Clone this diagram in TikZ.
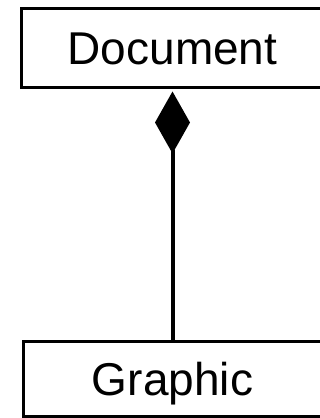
\documentclass[tikz,border=0pt]{standalone}
\usepackage{fontspec}
\setmainfont{Liberation Sans}
\usetikzlibrary{arrows.meta}
\begin{document}
\begin{tikzpicture}[x=1pt,y=-1pt,
  classbox/.style={draw=black, line width=3pt, fill=white, inner sep=0pt,
    font=\fontsize{46}{46}\selectfont, text height=33pt, text depth=0pt},
  composition/.style={line width=4pt, shorten <=3pt,
    {Diamond[length=62pt 0 0, width=35pt 0 0, line width=0pt]}-}]
\useasboundingbox (0,0) rectangle (320,418);
\node[classbox, minimum width=302pt, minimum height=79pt] (doc) at (172.5,47.5) {Document};
\node[classbox, minimum width=299pt, minimum height=75pt] (gfx) at (172.5,378.5) {Graphic};
\draw[composition] (doc.south) -- (gfx.north);
\end{tikzpicture}
\end{document}
